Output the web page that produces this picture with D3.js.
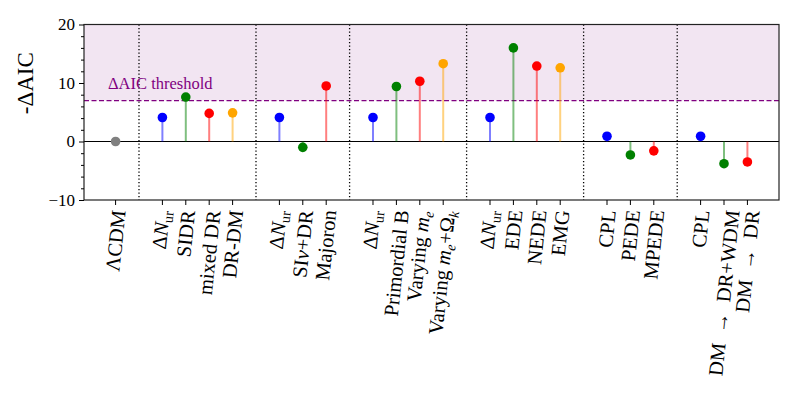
<!DOCTYPE html>
<html>
<head>
<meta charset="utf-8">
<script src="https://cdn.jsdelivr.net/npm/d3@7"></script>
<style>
  body { margin: 0; background: #fff; }
  svg text { font-family: "Liberation Serif", "DejaVu Serif", serif; }
</style>
</head>
<body>
<script>
// data, one small list per group (a free slot sits between groups)
var groupLabels = [
  ["ΛCDM"],
  ["Δ*N*_{ur}", "SIDR", "mixed DR", "DR-DM"],
  ["Δ*N*_{ur}", "SI*ν*+DR", "Majoron"],
  ["Δ*N*_{ur}", "Primordial B", "Varying *m*_[e]", "Varying *m*_[e]+Ω_[k]"],
  ["Δ*N*_{ur}", "EDE", "NEDE", "EMG"],
  ["CPL", "PEDE", "MPEDE"],
  ["CPL", "DM  →  DR+WDM", "DM  →  DR"]
];
var groupValues = [
  [0],
  [4.1, 7.6, 4.8, 4.9],
  [4.1, -1.0, 9.5],
  [4.1, 9.4, 10.3, 13.3],
  [4.1, 16.0, 12.9, 12.6],
  [0.9, -2.3, -1.6],
  [0.9, -3.8, -3.5]
];
var groupColors = [
  ["gray"],
  ["blue", "green", "red", "orange"],
  ["blue", "green", "red"],
  ["blue", "green", "red", "orange"],
  ["blue", "green", "red", "orange"],
  ["blue", "green", "red"],
  ["blue", "green", "red"]
];
var threshold = 7;
var yMajor = [-10, 0, 10, 20];
var yMinor = d3.range(-10, 21, 2);

var width = 797, height = 399;
var margin = { left: 84, right: 18, top: 24.5, bottom: 199 };

// flatten groups into positions
var points = [];
var separators = [];
var pos = 0;
groupLabels.forEach(function(g, gi) {
  if (gi > 0) { separators.push(pos); pos++; }
  g.forEach(function(lab, i) {
    points.push({ x: pos, label: lab, value: groupValues[gi][i], color: groupColors[gi][i] });
    pos++;
  });
});
var nPos = pos - 1;
var pad = nPos * 0.05;

var x = d3.scaleLinear().domain([-pad, nPos + pad]).range([margin.left, width - margin.right]);
var y = d3.scaleLinear().domain([-10, 20]).range([height - margin.bottom, margin.top]);

var svg = d3.select('body').append('svg')
  .attr('width', width)
  .attr('height', height);

var x0 = x.range()[0], x1 = x.range()[1];
var yTop = y.range()[1], yBot = y.range()[0];

// shaded region above threshold
svg.append('rect')
  .attr('x', x0).attr('y', y(20))
  .attr('width', x1 - x0).attr('height', y(threshold) - y(20))
  .attr('fill', 'purple').attr('fill-opacity', 0.1);

// group separators
svg.selectAll('.sep').data(separators).enter().append('line')
  .attr('x1', function(d) { return x(d); }).attr('x2', function(d) { return x(d); })
  .attr('y1', yTop).attr('y2', yBot)
  .attr('stroke', '#000').attr('stroke-width', 1.3).attr('stroke-dasharray', '1.3,2.2');

// zero line
svg.append('line')
  .attr('x1', x0).attr('x2', x1).attr('y1', y(0)).attr('y2', y(0))
  .attr('stroke', '#000').attr('stroke-width', 1.2);

// threshold
svg.append('line')
  .attr('x1', x0).attr('x2', x1).attr('y1', y(threshold)).attr('y2', y(threshold))
  .attr('stroke', 'purple').attr('stroke-width', 1.3).attr('stroke-dasharray', '5,2.5');

svg.append('text')
  .attr('x', 108).attr('y', y(threshold) - 12)
  .attr('fill', 'purple').attr('font-size', '16.5px')
  .text('ΔAIC threshold');

// stems
svg.selectAll('.stem').data(points.filter(function(d) { return d.value !== 0; })).enter().append('line')
  .attr('x1', function(d) { return x(d.x); }).attr('x2', function(d) { return x(d.x); })
  .attr('y1', y(0)).attr('y2', function(d) { return y(d.value); })
  .attr('stroke', function(d) { return d.color; })
  .attr('stroke-opacity', 0.5).attr('stroke-width', 2);

// markers
svg.selectAll('.dot').data(points).enter().append('circle')
  .attr('cx', function(d) { return x(d.x); })
  .attr('cy', function(d) { return y(d.value); })
  .attr('r', 4.8)
  .attr('fill', function(d) { return d.color; });

// frame
svg.append('rect')
  .attr('x', x0).attr('y', yTop).attr('width', x1 - x0).attr('height', yBot - yTop)
  .attr('fill', 'none').attr('stroke', '#222').attr('stroke-width', 1.2);

// y axis
var yAxis = svg.append('g').attr('transform', 'translate(' + x0 + ',0)')
  .call(d3.axisLeft(y).tickValues(yMajor).tickSize(5).tickPadding(4)
    .tickFormat(function(d) { return d < 0 ? '\u2212' + Math.abs(d) : d; }));
yAxis.select('.domain').remove();
yAxis.selectAll('text').attr('font-size', '17px').attr('fill', '#000')
  .attr('font-family', '"Liberation Serif", serif');
svg.append('g').attr('transform', 'translate(' + x0 + ',0)')
  .call(d3.axisLeft(y).tickValues(yMinor.filter(function(v) { return yMajor.indexOf(v) < 0; }))
    .tickSize(3).tickFormat(''))
  .select('.domain').remove();

svg.append('text')
  .attr('transform', 'translate(33,' + (y(5) - 29) + ') rotate(-90)')
  .attr('text-anchor', 'middle')
  .attr('font-size', '23px')
  .text('-ΔAIC');

// x ticks
svg.selectAll('.xt').data(points).enter().append('line')
  .attr('x1', function(d) { return x(d.x); }).attr('x2', function(d) { return x(d.x); })
  .attr('y1', yBot).attr('y2', yBot + 5)
  .attr('stroke', '#000').attr('stroke-width', 1);

// rotated labels with simple markup: *it*, _{roman sub}, _[italic sub]
function addRich(textSel, s) {
  var re = /\*([^*]+)\*|_\{([^}]+)\}|_\[([^\]]+)\]|([^*_]+)/g, m;
  var shifted = false;
  while ((m = re.exec(s)) !== null) {
    var ts;
    if (m[2] || m[3]) {
      ts = textSel.append('tspan').attr('font-size', '0.7em').attr('dy', '4')
        .attr('font-style', m[3] ? 'italic' : 'normal').text(m[2] || m[3]);
      shifted = true;
      continue;
    }
    ts = textSel.append('tspan');
    if (m[1]) ts.attr('font-style', 'italic').text(m[1]);
    else ts.text(m[4]);
    if (shifted) { ts.attr('dy', '-4'); shifted = false; }
  }
}

var angle = -84;
var labelTop = 209;
points.forEach(function(d) {
  var t = svg.append('text')
    .attr('font-size', '20.5px')
    .attr('text-anchor', 'end')
    .attr('dy', '0.33em')
    .attr('transform', 'translate(' + x(d.x) + ',' + labelTop + ') rotate(' + angle + ')')
    .attr('xml:space', 'preserve')
    .style('white-space', 'pre');
  addRich(t, d.label);
  var b = t.node().getBoundingClientRect();
  var dx = x(d.x) - (b.left + b.right) / 2;
  var dy = labelTop - b.top;
  t.attr('transform', 'translate(' + (x(d.x) + dx) + ',' + (labelTop + dy) + ') rotate(' + angle + ')');
});
</script>
</body>
</html>
